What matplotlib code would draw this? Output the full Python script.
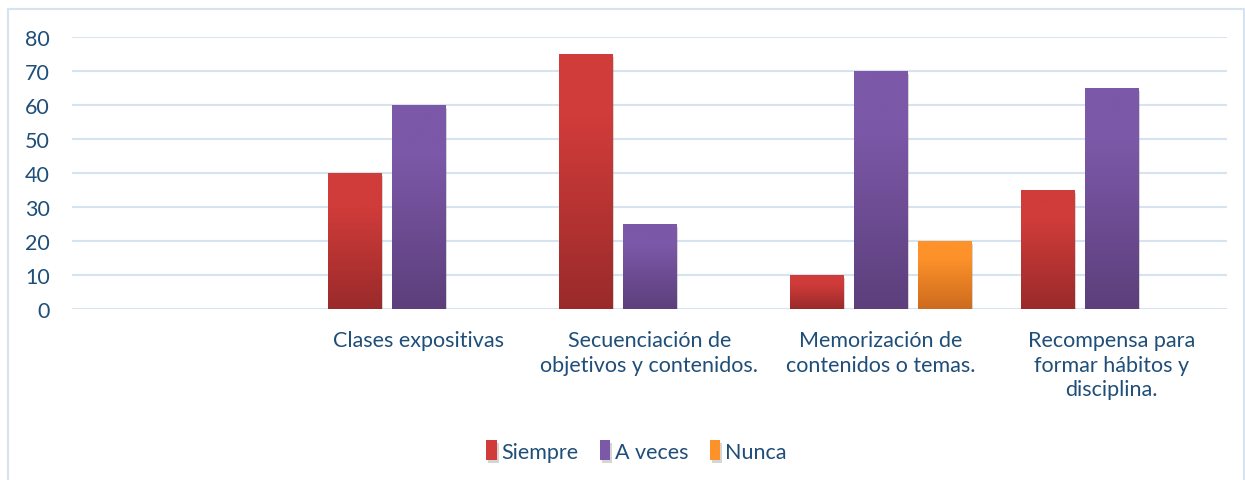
import numpy as np
import matplotlib
matplotlib.use("Agg")
import matplotlib.pyplot as plt
import matplotlib.patheffects as pe
from matplotlib.colors import LinearSegmentedColormap
from matplotlib.patches import Rectangle

categories = ["", "Clases expositivas", "Secuenciación de\nobjetivos y contenidos.",
              "Memorización de\ncontenidos o temas.",
              "Recompensa para\nformar hábitos y\ndisciplina."]
series_names = ["Siempre", "A veces", "Nunca"]
siempre = [0, 40, 75, 10, 35]
a_veces = [0, 60, 25, 70, 65]
nunca = [0, 0, 0, 20, 0]
y_ticks = [0, 10, 20, 30, 40, 50, 60, 70, 80]

# gradient (top, bottom) for each series
grads = [("#d03c3a", "#9a2a2a"), ("#7c58a8", "#5c3f7b"), ("#fe922a", "#cc6a1e")]
text_col = "#1f4e79"
grid_col = "#d6e3f1"

plt.rcParams['font.family'] = ['Lato', 'DejaVu Sans']

fig = plt.figure(figsize=(12.45, 4.81), dpi=100)
ax = fig.add_axes([72 / 1245, 1 - 310 / 481, (1227 - 72) / 1245, (310 - 38) / 481])

# outer frame of the chart
fig.patches.append(Rectangle((8 / 1245, -0.1), 1236 / 1245, 1 - 10 / 481 + 0.1,
                             transform=fig.transFigure, fill=False,
                             edgecolor="#d6e3f1", linewidth=1.5))

x = np.arange(len(categories))
width = 0.23
offsets = [-0.277, 0, 0.277]
all_vals = [siempre, a_veces, nunca]

for vals, off, (top, bot), name in zip(all_vals, offsets, grads, series_names):
    # first entry of the image is the bar bottom
    cmap = LinearSegmentedColormap.from_list(name, [(0, bot), (0.75, top), (1, top)])
    bars = ax.bar(x + off, vals, width, color=top, label=name, zorder=3,
                  linewidth=0,
                  path_effects=[pe.SimplePatchShadow(offset=(1.5, -2), shadow_rgbFace="#888888", alpha=0.35),
                                pe.Normal()])
    for b in bars:
        h = b.get_height()
        if h <= 0:
            continue
        grad = np.linspace(0, 1, 256).reshape(-1, 1)
        im = ax.imshow(grad, cmap=cmap, aspect="auto", zorder=4, origin="lower",
                       extent=[b.get_x(), b.get_x() + b.get_width(), 0, h])
        im.set_clip_path(b)

ax.set_xlim(-0.5, len(categories) - 0.5)
ax.set_ylim(0, 80)
ax.set_yticks(y_ticks)
ax.set_xticks(x)
ax.set_xticklabels(categories, linespacing=1.3)
ax.yaxis.grid(True, color=grid_col, linewidth=1.5, zorder=0)
ax.set_axisbelow(True)
for s in ax.spines.values():
    s.set_visible(False)
ax.tick_params(axis="y", length=0, pad=16, labelsize=15.5, labelcolor=text_col)
ax.tick_params(axis="x", length=0, pad=15, labelsize=15.5, labelcolor=text_col)

leg = fig.legend(loc="center", bbox_to_anchor=(636 / 1245, 1 - 452 / 481), ncol=3,
                 frameon=False, fontsize=15.5, handlelength=0.5, handleheight=1.0,
                 handletextpad=0.2, columnspacing=1.0)
for t in leg.get_texts():
    t.set_color(text_col)

fig.savefig("out.png", dpi=100)
